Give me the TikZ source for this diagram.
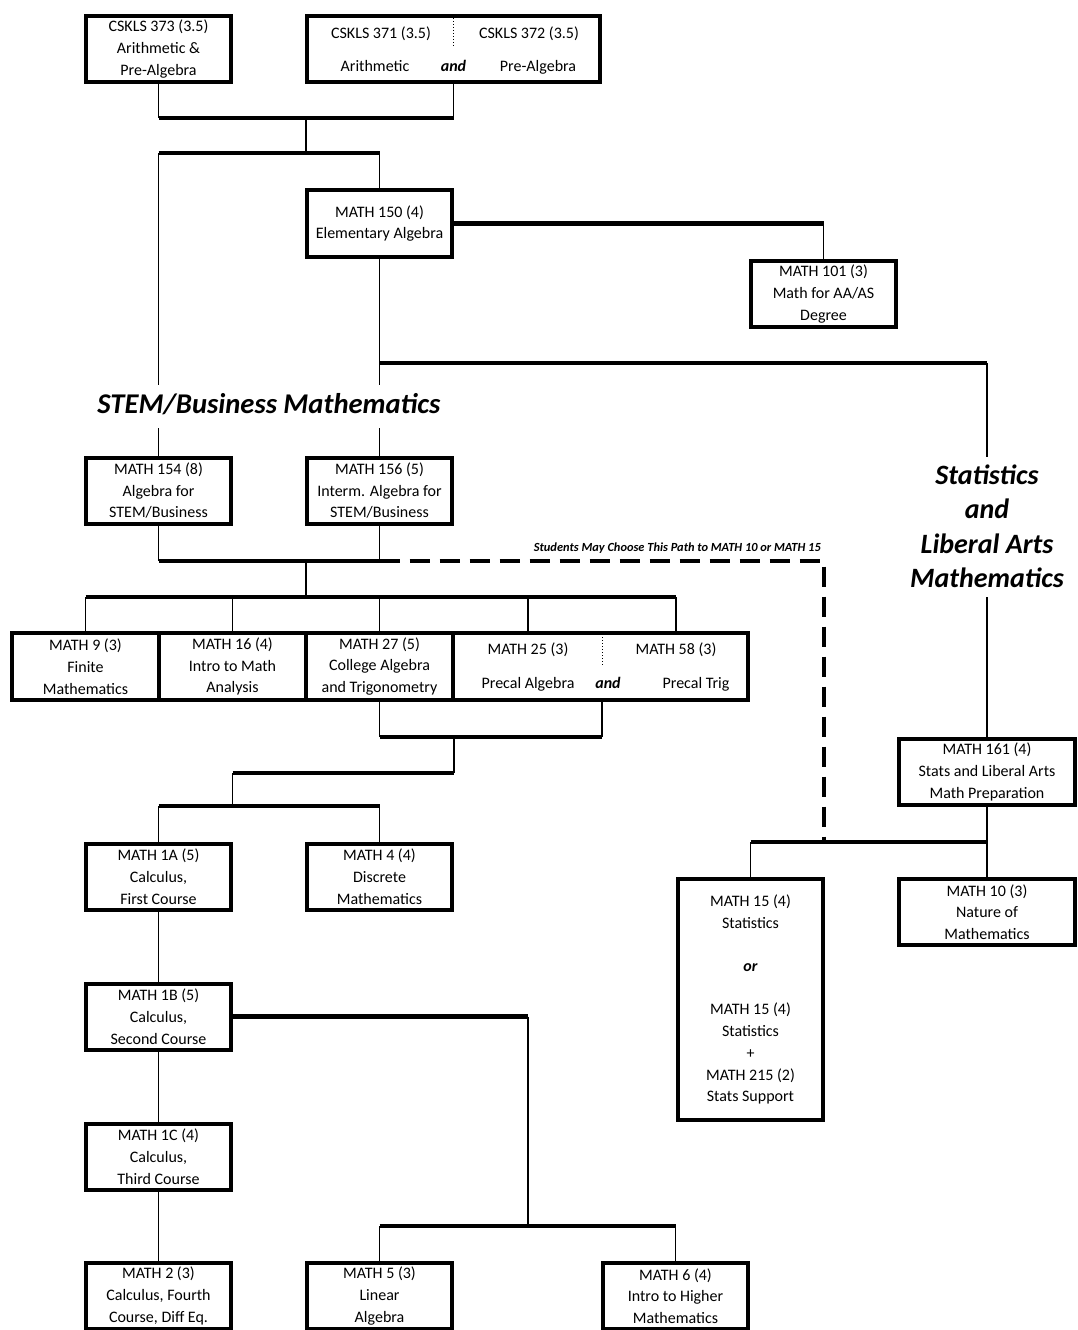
\documentclass[tikz,border=0pt]{standalone}
\usepackage{fontspec}
\setmainfont{Carlito}
\begin{document}
\begin{tikzpicture}[x=1pt,y=-1pt,
  tf/.style={font=\fontsize{16}{21.7}\selectfont},
  box/.style={draw, line width=4pt, minimum width=145pt, minimum height=66pt, inner sep=0pt, outer sep=0pt, align=center, tf},
  txt/.style={inner sep=0pt, anchor=base, tf},
  andtxt/.style={inner sep=0pt, anchor=base, font=\fontsize{16}{21.7}\selectfont\bfseries\itshape},
  vl/.style={line width=1.6pt},
  hb/.style={line width=4.5pt},
  dsh/.style={line width=4.5pt, dash pattern=on 20pt off 10pt},
  big/.style={inner sep=0pt, align=center, font=\fontsize{28}{34.5}\selectfont\bfseries\itshape},
  divider/.style={line width=1pt, dotted}
]
\useasboundingbox (0,0) rectangle (1078,1330);

% top row
\node[box] (c373) at (158.5,49) {CSKLS 373 (3.5)\\Arithmetic \&\\Pre-Algebra};
\node[box, minimum width=293pt] (c371) at (453.5,49) {};
\node[txt] (t371) at (381,38) {CSKLS 371 (3.5)};
\node[txt] (t372) at (529,38) {CSKLS 372 (3.5)};
\node[txt] (t371b) at (375,71) {Arithmetic};
\node[andtxt] (tand1) at (453.5,71) {and};
\node[txt] (t372b) at (538,71) {Pre-Algebra};
\draw[divider] (453.5,18) -- (453.5,47);

\node[box, minimum height=67pt] (m150) at (379.5,223.5) {MATH 150 (4)\\Elementary Algebra};
\node[box] (m101) at (823.5,294) {MATH 101 (3)\\Math for AA/AS\\Degree};

\node[big, font=\fontsize{28.6}{34.5}\selectfont\bfseries\itshape] (stem) at (269,404) {STEM/Business Mathematics};
\node[big] (stats) at (987,526.5) {Statistics\\and\\Liberal Arts\\Mathematics};

\node[box] (m154) at (158.5,490.5) {MATH 154 (8)\\Algebra for\\STEM/Business};
\node[box] (m156) at (379.5,490.5) {MATH 156 (5)\\Interm. Algebra for\\STEM/Business};

\node[inner sep=0pt, anchor=east, font=\fontsize{12.4}{14}\selectfont\bfseries\itshape] (note) at (821,548) {Students May Choose This Path to MATH 10 or MATH 15};

% second course row
\node[box, minimum width=147pt, minimum height=67pt] (m9) at (85.5,666.5) {MATH 9 (3)\\Finite\\Mathematics};
\node[box, minimum width=147pt, minimum height=67pt] (m16) at (232.5,666.5) {MATH 16 (4)\\Intro to Math\\Analysis};
\node[box, minimum width=147pt, minimum height=67pt] (m27) at (379.5,666.5) {MATH 27 (5)\\College Algebra\\and Trigonometry};
\node[box, minimum width=295pt, minimum height=67pt] (m2558) at (600.5,666.5) {};
\node[txt] (t25) at (528,654) {MATH 25 (3)};
\node[txt] (t58) at (676,654) {MATH 58 (3)};
\node[txt] (t25b) at (528,688) {Precal Algebra};
\node[andtxt] (tand2) at (608,688) {and};
\node[txt] (t58b) at (696,688) {Precal Trig};
\draw[divider] (602,637) -- (602,667);

\node[box] (m1a) at (158.5,876.5) {MATH 1A (5)\\Calculus,\\First Course};
\node[box] (m4) at (379.5,876.5) {MATH 4 (4)\\Discrete\\Mathematics};
\node[box] (m1b) at (158.5,1016.5) {MATH 1B (5)\\Calculus,\\Second Course};
\node[box] (m1c) at (158.5,1156.5) {MATH 1C (4)\\Calculus,\\Third Course};
\node[box] (m2) at (158.5,1296) {MATH 2 (3)\\Calculus, Fourth\\Course, Diff Eq.};
\node[box] (m5) at (379.5,1296) {MATH 5 (3)\\Linear\\Algebra};
\node[box] (m6) at (675.5,1296) {MATH 6 (4)\\Intro to Higher\\Mathematics};

\node[box, minimum width=176pt] (m161) at (987,772) {MATH 161 (4)\\Stats and Liberal Arts\\Math Preparation};
\node[box, minimum width=176pt] (m10) at (987,912) {MATH 10 (3)\\Nature of\\Mathematics};
\node[box, minimum height=241pt] (m15) at (750.5,999.5) {MATH 15 (4)\\Statistics\\[21.7pt]\textbf{\textit{or}}\\[21.7pt]MATH 15 (4)\\Statistics\\+\\MATH 215 (2)\\Stats Support};

% junction coordinates
\coordinate (j1a) at (158.5,118);
\coordinate (j1b) at (453.5,118);
\coordinate (j1) at (306,118);
\coordinate (j2) at (306,153);
\coordinate (j2a) at (158.5,153);
\coordinate (j2b) at (379.5,153);
\coordinate (j150) at (823.5,223.5);
\coordinate (j3) at (379.5,363);
\coordinate (j4) at (987,363);
\coordinate (s1t) at (158.5,385);
\coordinate (s1b) at (158.5,428);
\coordinate (s2t) at (379.5,385);
\coordinate (s2b) at (379.5,428);
\coordinate (st1) at (987,457);
\coordinate (st2) at (987,597);
\coordinate (k1) at (158.5,561);
\coordinate (k2) at (379.5,561);
\coordinate (k0) at (306,561);
\coordinate (kd) at (824,561);
\coordinate (kd2) at (824,842);
\coordinate (r0) at (306,597);
\coordinate (r1) at (85.5,597);
\coordinate (r2) at (232.5,597);
\coordinate (r3) at (379.5,597);
\coordinate (r4) at (528,597);
\coordinate (r5) at (676,597);
\coordinate (q1) at (379.5,737);
\coordinate (q2) at (602,737);
\coordinate (q0) at (454,737);
\coordinate (p0) at (454,773);
\coordinate (p1) at (232.5,773);
\coordinate (p2) at (232.5,806);
\coordinate (n1) at (158.5,806);
\coordinate (n2) at (379.5,806);
\coordinate (b1) at (528,1016.5);
\coordinate (b2) at (528,1226);
\coordinate (b3) at (379.5,1226);
\coordinate (b4) at (675.5,1226);
\coordinate (g0) at (987,842);
\coordinate (g1) at (750.5,842);

% connectors
\draw[vl] (c373.south) -- (j1a);
\draw[vl] (c371.south) -- (j1b);
\draw[hb] (j1a) -- (j1b);
\draw[vl] (j1) -- (j2);
\draw[hb] (j2a) -- (j2b);
\draw[vl] (j2b) -- (m150.north);
\draw[vl] (j2a) -- (s1t);
\draw[vl] (s1b) -- (m154.north);
\draw[hb] (m150.east) -- (j150);
\draw[vl] (j150) -- (m101.north);
\draw[vl] (m150.south) -- (s2t);
\draw[vl] (s2b) -- (m156.north);
\draw[hb] (j3) -- (j4);
\draw[vl] (j4) -- (st1);
\draw[vl] (st2) -- (m161.north);
\draw[vl] (m154.south) -- (k1);
\draw[vl] (m156.south) -- (k2);
\draw[hb] (k1) -- (k2);
\draw[dsh] (k2) -- (kd) -- (kd2);
\draw[vl] (k0) -- (r0);
\draw[hb] (r1) -- (r5);
\draw[vl] (r1) -- (m9.north);
\draw[vl] (r2) -- (m16.north);
\draw[vl] (r3) -- (m27.north);
\draw[vl] (r4) -- (r4 |- m2558.north);
\draw[vl] (r5) -- (r5 |- m2558.north);
\draw[vl] (m27.south) -- (q1);
\draw[vl] (q2 |- m2558.south) -- (q2);
\draw[hb] (q1) -- (q2);
\draw[vl] (q0) -- (p0);
\draw[hb] (p1) -- (p0);
\draw[vl] (p1) -- (p2);
\draw[hb] (n1) -- (n2);
\draw[vl] (n1) -- (m1a.north);
\draw[vl] (n2) -- (m4.north);
\draw[vl] (m1a.south) -- (m1b.north);
\draw[vl] (m1b.south) -- (m1c.north);
\draw[vl] (m1c.south) -- (m2.north);
\draw[hb] (m1b.east) -- (b1);
\draw[vl] (b1) -- (b2);
\draw[hb] (b3) -- (b4);
\draw[vl] (b3) -- (m5.north);
\draw[vl] (b4) -- (m6.north);
\draw[vl] (m161.south) -- (g0);
\draw[hb] (g1) -- (g0);
\draw[vl] (g1) -- (m15.north);
\draw[vl] (g0) -- (m10.north);
\end{tikzpicture}
\end{document}
